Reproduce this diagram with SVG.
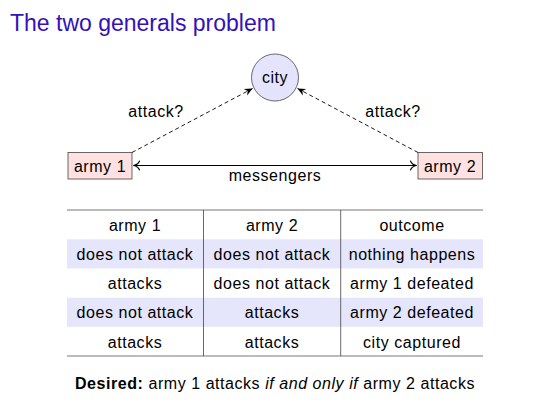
<svg xmlns="http://www.w3.org/2000/svg" width="544" height="411" viewBox="0 0 544 411">
<defs>
<style>
text{font-family:"Liberation Sans",Arial,sans-serif;font-size:16px;fill:#000;letter-spacing:0.55px}
.title{font-size:23px;fill:#3511b8;letter-spacing:0}
.c{text-anchor:middle}
.army{fill:#ffe1e1;stroke:#444;stroke-width:0.8}
.city{fill:#e4e4ff;stroke:#444;stroke-width:0.8}
.dash{stroke:#000;stroke-width:0.9;stroke-dasharray:4 3;fill:none}
.msg{stroke:#000;stroke-width:1.2;fill:none}
.shade{fill:#e5e5fb}
.rule{stroke:#777;stroke-width:1}
.vline{stroke:#444;stroke-width:0.8}
</style>
<marker id="stealth" markerWidth="10" markerHeight="10" refX="0" refY="0" viewBox="-9 -5 10 10" orient="auto" markerUnits="userSpaceOnUse">
<path d="M0,0 L-8,-3.6 L-5.5,0 L-8,3.6 Z" fill="#000"/>
</marker>
<marker id="to" markerWidth="12" markerHeight="12" refX="0" refY="0" viewBox="-8 -6 10 12" orient="auto-start-reverse" markerUnits="userSpaceOnUse">
<path d="M-6,-4.5 C-5,-1.8 -2,-0.4 0,0 C-2,0.4 -5,1.8 -6,4.5" fill="none" stroke="#000" stroke-width="1.1" stroke-linecap="round"/>
</marker>
</defs>
<rect width="544" height="411" fill="#fff"/>
<text class="title" x="10" y="31">The two generals problem</text>

<g id="connectors">
<line class="dash" x1="132" y1="152.5" x2="252.5" y2="88.5" marker-end="url(#stealth)"/>
<line class="dash" x1="418" y1="152.5" x2="297.5" y2="88.5" marker-end="url(#stealth)"/>
<line class="msg" x1="133.5" y1="165.5" x2="416.5" y2="165.5" marker-start="url(#to)" marker-end="url(#to)"/>
<text x="156" y="117" class="c">attack?</text>
<text x="393" y="117" class="c">attack?</text>
<text x="275" y="180.5" class="c">messengers</text>
</g>

<g id="city">
<circle class="city" cx="275" cy="77.5" r="23.5"/>
<text x="275" y="82.5" class="c">city</text>
</g>
<g id="army1">
<rect class="army" x="68" y="152.5" width="64" height="26.5"/>
<text x="100" y="171.5" class="c">army 1</text>
</g>
<g id="army2">
<rect class="army" x="418" y="152.5" width="64.5" height="26.5"/>
<text x="450" y="171.5" class="c">army 2</text>
</g>

<g id="table">
<rect class="shade" x="67" y="239.3" width="416" height="29.2"/>
<rect class="shade" x="67" y="297.7" width="416" height="29.1"/>
<line class="rule" x1="67" y1="210" x2="483" y2="210"/>
<line class="rule" x1="67" y1="356" x2="483" y2="356"/>
<line class="vline" x1="203.5" y1="210" x2="203.5" y2="356"/>
<line class="vline" x1="340.7" y1="210" x2="340.7" y2="356"/>
<text x="135" y="230.8" class="c">army 1</text>
<text x="272" y="230.8" class="c">army 2</text>
<text x="412" y="230.8" class="c">outcome</text>
<text x="135" y="260" class="c">does not attack</text>
<text x="272" y="260" class="c">does not attack</text>
<text x="412" y="260" class="c">nothing happens</text>
<text x="135" y="289.2" class="c">attacks</text>
<text x="272" y="289.2" class="c">does not attack</text>
<text x="412" y="289.2" class="c">army 1 defeated</text>
<text x="135" y="318.4" class="c">does not attack</text>
<text x="272" y="318.4" class="c">attacks</text>
<text x="412" y="318.4" class="c">army 2 defeated</text>
<text x="135" y="347.5" class="c">attacks</text>
<text x="272" y="347.5" class="c">attacks</text>
<text x="412" y="347.5" class="c">city captured</text>
</g>

<text x="75" y="388.5"><tspan font-weight="bold">Desired:</tspan> army 1 attacks <tspan font-style="italic">if and only if</tspan> army 2 attacks</text>
</svg>
